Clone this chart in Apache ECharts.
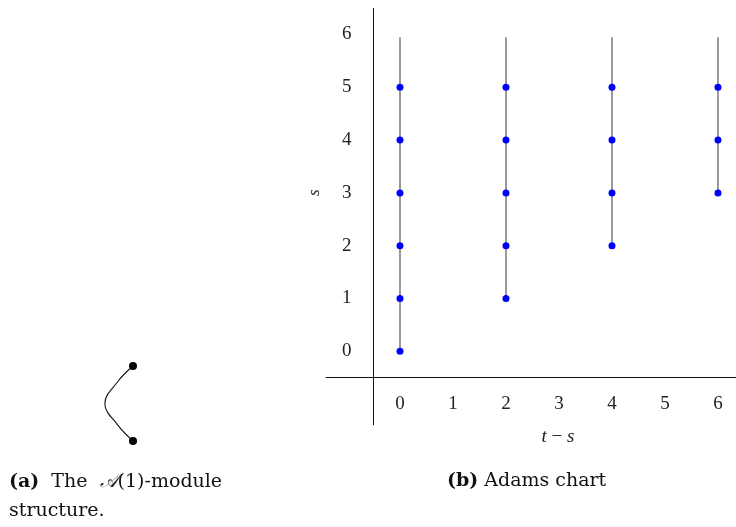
<!DOCTYPE html>
<html>
<head>
<meta charset="utf-8">
<script src="https://cdn.jsdelivr.net/npm/echarts@6/dist/echarts.min.js"></script>
<style>
  html, body { margin: 0; padding: 0; background: #fff; }
  #chart { width: 736px; height: 527px; }
</style>
</head>
<body>
<div id="chart"></div>
<script>
// Adams chart: towers at t-s = 0,2,4,6
const tickValues = [0, 1, 2, 3, 4, 5, 6];
const towerCols = [0, 2, 4, 6];
const towerBase = [0, 1, 2, 3];
const towerTop = [5.95, 5.95, 5.95, 5.95];
const dotT = [0, 0, 0, 0, 0, 0, 2, 2, 2, 2, 2, 4, 4, 4, 4, 6, 6, 6];
const dotS = [0, 1, 2, 3, 4, 5, 1, 2, 3, 4, 5, 2, 3, 4, 5, 3, 4, 5];
const axisCross = -0.5;

// A(1)-module: two classes joined by a Sq2 curve
const moduleX = [0, 0];
const moduleDeg = [0, 2];
const curveX = [0, -0.41, -0.75, -0.41, 0];
const curveY = [2, 1.58, 1.0, 0.43, 0];

const tickFont = "Liberation Serif";
const capFont = "DejaVu Serif";

const chart = echarts.init(document.getElementById("chart"));

const towerSeries = towerCols.map((c, i) => ({
  type: "line",
  xAxisIndex: 0,
  yAxisIndex: 0,
  data: [[c, towerBase[i]], [c, towerTop[i]]],
  symbol: "none",
  silent: true,
  lineStyle: { color: "#555", width: 1.2 },
  z: 2
}));

const option = {
  animation: false,
  title: [
    {
      text: "{b|(b)} Adams chart",
      left: 442,
      top: 467,
      textStyle: {
        fontFamily: capFont, fontSize: 19, fontWeight: "normal", color: "#111",
        rich: { b: { fontFamily: capFont, fontSize: 19, fontWeight: "bold", color: "#111" } }
      }
    },
    {
      text: "{b|(a)}  The  {m|𝒜}(1)-module\nstructure.",
      left: 4,
      top: 463,
      textStyle: {
        fontFamily: capFont, fontSize: 19, fontWeight: "normal", color: "#111", lineHeight: 29,
        rich: {
          b: { fontFamily: capFont, fontSize: 19, fontWeight: "bold", color: "#111", lineHeight: 29 },
          m: { fontFamily: capFont, fontSize: 19, fontStyle: "italic", color: "#111", lineHeight: 29 }
        }
      }
    }
  ],
  grid: [
    { left: 325.8, top: 8.1, width: 410.2, height: 417.1 },
    { left: 95.5, top: 347.25, width: 75, height: 112.5 }
  ],
  xAxis: [
    {
      gridIndex: 0, type: "value", min: -1.4, max: 6.34,
      axisLine: { show: false }, axisTick: { show: false }, splitLine: { show: false },
      axisLabel: {
        customValues: tickValues, margin: -21, verticalAlign: "middle",
        fontFamily: tickFont, fontSize: 19, color: "#222"
      },
      name: "{i|t} − {i|s}",
      nameLocation: "middle",
      nameGap: 12,
      nameTextStyle: {
        fontFamily: tickFont, fontSize: 19, color: "#222", verticalAlign: "middle",
        padding: [0, 0, 0, 54],
        rich: { i: { fontFamily: tickFont, fontSize: 19, fontStyle: "italic", color: "#222" } }
      }
    },
    {
      gridIndex: 1, type: "value", min: -1, max: 1, show: false
    }
  ],
  yAxis: [
    {
      gridIndex: 0, type: "value", min: -1.4, max: 6.5,
      axisLine: { show: false }, axisTick: { show: false }, splitLine: { show: false },
      axisLabel: {
        customValues: tickValues, margin: -21, align: "center",
        fontFamily: tickFont, fontSize: 19, color: "#222"
      },
      name: "s",
      nameLocation: "middle",
      nameGap: 11,
      nameTextStyle: {
        fontFamily: tickFont, fontSize: 17, fontStyle: "italic", color: "#222",
        verticalAlign: "middle", padding: [0, 0, 0, 48]
      }
    },
    {
      gridIndex: 1, type: "value", min: -0.5, max: 2.5, show: false
    }
  ],
  series: [
    ...towerSeries,
    {
      type: "scatter",
      xAxisIndex: 0,
      yAxisIndex: 0,
      data: dotT.map((t, i) => [t, dotS[i]]),
      symbolSize: 7,
      itemStyle: { color: "#0000ff", opacity: 1 },
      silent: true,
      z: 3,
      markLine: {
        silent: true,
        symbol: "none",
        label: { show: false },
        lineStyle: { color: "#111", width: 1, type: "solid" },
        data: [{ xAxis: axisCross }, { yAxis: axisCross }]
      }
    },
    {
      type: "line",
      xAxisIndex: 1,
      yAxisIndex: 1,
      data: curveX.map((x, i) => [x, curveY[i]]),
      smooth: 0.4,
      symbol: "none",
      silent: true,
      lineStyle: { color: "#111", width: 1.1 }
    },
    {
      type: "scatter",
      xAxisIndex: 1,
      yAxisIndex: 1,
      data: moduleX.map((x, i) => [x, moduleDeg[i]]),
      symbolSize: 8,
      itemStyle: { color: "#000", opacity: 1 },
      silent: true,
      z: 3
    }
  ]
};

chart.setOption(option);
</script>
</body>
</html>
